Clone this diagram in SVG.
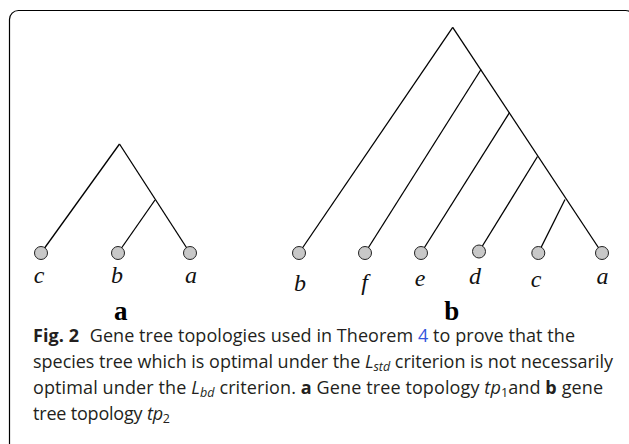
<svg xmlns="http://www.w3.org/2000/svg" width="629" height="444" viewBox="0 0 629 444">
<style>
.edge{stroke:#000;stroke-width:1.3;fill:none}
.leaf{fill:#c8c8c8;stroke:#222;stroke-width:1}
.lbl{font-family:"Liberation Serif",serif;font-style:italic;font-size:24px;fill:#111;text-anchor:middle}
.pl{font-family:"Liberation Serif",serif;font-weight:bold;font-size:27px;fill:#000;text-anchor:middle}
.cap{font-family:"Open Sans",sans-serif;font-size:18px;fill:#231f20}
.b{font-weight:bold}
.i{font-style:italic}
.s{font-size:12.5px}
</style>
<rect x="9.5" y="10.5" width="625" height="450" rx="9" fill="#fff" stroke="#000" stroke-width="1.2"/>
<g id="connectors">
<line class="edge" x1="119.5" y1="144" x2="41" y2="253"/>
<line class="edge" x1="119.5" y1="144" x2="190" y2="253"/>
<line class="edge" x1="155" y1="200" x2="118" y2="253"/>
<line class="edge" x1="452.7" y1="27.3" x2="299" y2="253"/>
<line class="edge" x1="452.7" y1="27.3" x2="602" y2="253"/>
<line class="edge" x1="481" y1="69.5" x2="365" y2="253"/>
<line class="edge" x1="509.5" y1="112.5" x2="421" y2="253"/>
<line class="edge" x1="537.5" y1="156.5" x2="479" y2="251.5"/>
<line class="edge" x1="565" y1="199.5" x2="538.3" y2="253"/>
</g>
<g id="treeA-c"><circle class="leaf" cx="41" cy="253" r="6.5"/><text class="lbl" x="39" y="283">c</text></g>
<g id="treeA-b"><circle class="leaf" cx="118" cy="253" r="6.5"/><text class="lbl" x="117" y="283">b</text></g>
<g id="treeA-a"><circle class="leaf" cx="190" cy="253" r="6.5"/><text class="lbl" x="191" y="283">a</text></g>
<g id="treeB-b"><circle class="leaf" cx="299" cy="253" r="6.5"/><text class="lbl" x="300" y="290.5">b</text></g>
<g id="treeB-f"><circle class="leaf" cx="365" cy="253" r="6.5"/><text class="lbl" x="364.5" y="290">f</text></g>
<g id="treeB-e"><circle class="leaf" cx="421" cy="253" r="6.5"/><text class="lbl" x="420" y="286">e</text></g>
<g id="treeB-d"><circle class="leaf" cx="479" cy="251.5" r="6.5"/><text class="lbl" x="475" y="284.3">d</text></g>
<g id="treeB-c"><circle class="leaf" cx="538.3" cy="253" r="6.5"/><text class="lbl" x="536" y="287.3">c</text></g>
<g id="treeB-a"><circle class="leaf" cx="602" cy="253" r="6.5"/><text class="lbl" x="602.5" y="284.3">a</text></g>
<g id="panel-labels">
<text class="pl" x="120.7" y="319.5">a</text>
<text class="pl" x="451.7" y="319.5">b</text>
</g>
<g id="caption" class="cap">
<text x="33" y="342" textLength="542" lengthAdjust="spacing"><tspan class="b">Fig. 2</tspan><tspan dx="6"> Gene tree topologies used in Theorem </tspan><tspan fill="#3355dd">4</tspan> to prove that the</text>
<text x="33" y="368" textLength="580" lengthAdjust="spacing">species tree which is optimal under the <tspan class="i">L</tspan><tspan class="i s" dy="3">std</tspan><tspan dy="-3"> criterion is not necessarily</tspan></text>
<text x="33" y="394" textLength="570" lengthAdjust="spacing">optimal under the <tspan class="i">L</tspan><tspan class="i s" dy="3">bd</tspan><tspan dy="-3"> criterion. </tspan><tspan class="b">a</tspan> Gene tree topology <tspan class="i">tp</tspan><tspan class="s" dy="3">1</tspan><tspan dy="-3">and </tspan><tspan class="b">b</tspan> gene</text>
<text x="33" y="420" textLength="137" lengthAdjust="spacing">tree topology <tspan class="i">tp</tspan><tspan class="s" dy="3">2</tspan></text>
</g>
</svg>
